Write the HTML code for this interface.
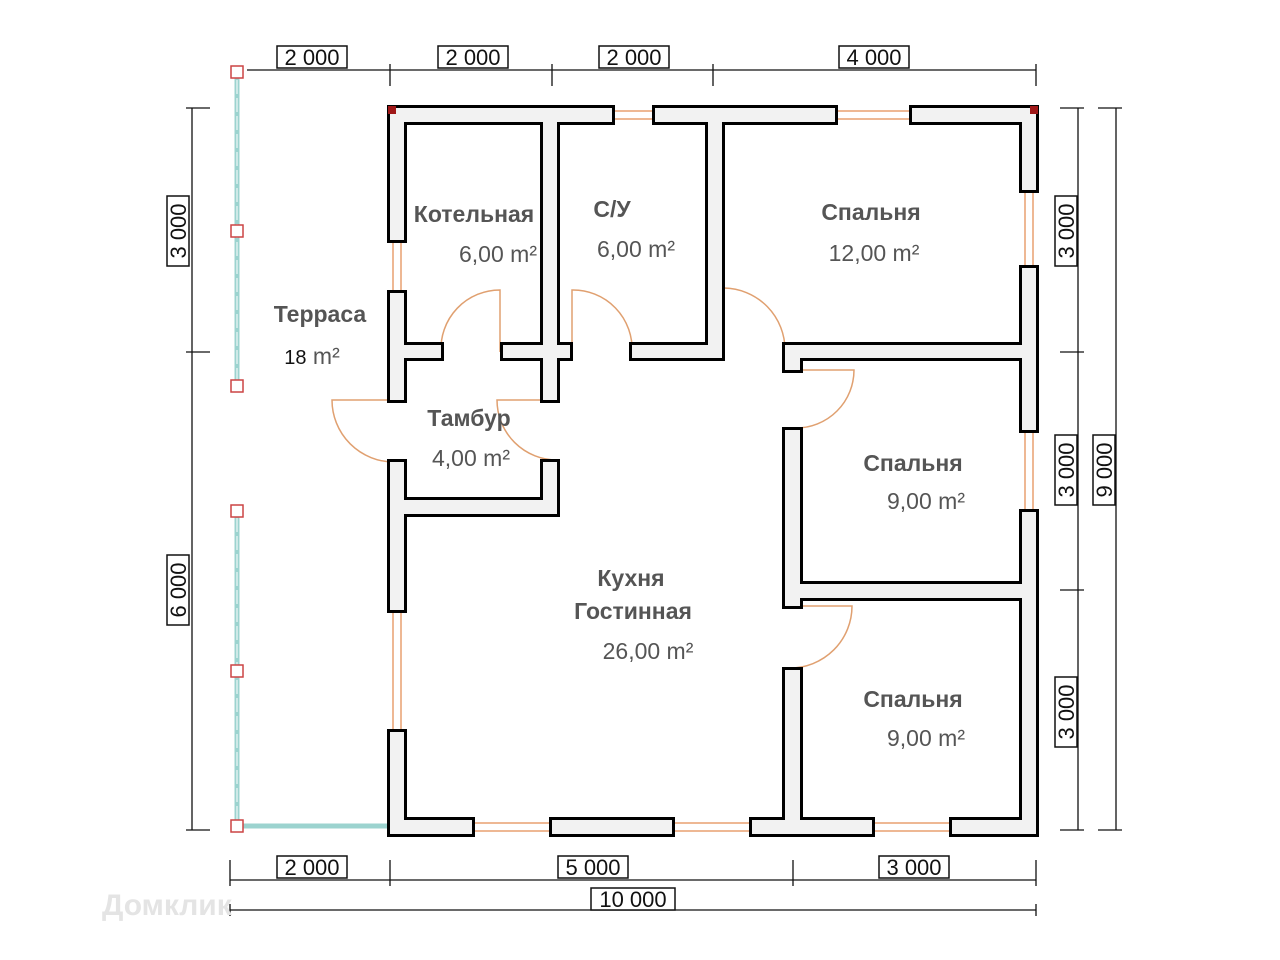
<!DOCTYPE html>
<html><head><meta charset="utf-8"><style>
body{margin:0;background:#fff;}
svg{display:block;}
.rl{font-family:"Liberation Sans",sans-serif;font-weight:bold;fill:#555;font-size:23px;}
.ra{font-family:"Liberation Sans",sans-serif;fill:#555;font-size:23px;}
.dm{font-family:"Liberation Sans",sans-serif;font-size:22px;fill:#111;}
</style></head><body>
<svg width="1280" height="960" viewBox="0 0 1280 960" xmlns="http://www.w3.org/2000/svg">
<defs>
<g id="walls">
<rect x="390" y="108" width="222" height="14"/><rect x="655" y="108" width="180" height="14"/><rect x="912" y="108" width="124" height="14"/>
<rect x="1022" y="108" width="14" height="82"/><rect x="1022" y="268" width="14" height="162"/><rect x="1022" y="512" width="14" height="322"/>
<rect x="390" y="820" width="82" height="14"/><rect x="552" y="820" width="120" height="14"/><rect x="752" y="820" width="120" height="14"/><rect x="952" y="820" width="84" height="14"/>
<rect x="390" y="108" width="14" height="132"/><rect x="390" y="293" width="14" height="107"/><rect x="390" y="462" width="14" height="148"/><rect x="390" y="732" width="14" height="102"/>
<rect x="543" y="122" width="14" height="278"/><rect x="543" y="462" width="14" height="52"/>
<rect x="404" y="345" width="37" height="13"/><rect x="503" y="345" width="67" height="13"/>
<rect x="708" y="122" width="14" height="236"/><rect x="632" y="345" width="90" height="13"/>
<rect x="404" y="500" width="153" height="14"/>
<rect x="785" y="345" width="237" height="13"/><rect x="785" y="345" width="15" height="25"/>
<rect x="785" y="430" width="15" height="176"/><rect x="800" y="584" width="222" height="14"/>
<rect x="785" y="670" width="15" height="150"/>
</g>
</defs>
<!-- terrace -->
<g stroke="#9cd3cf" stroke-width="5" fill="none">
<line x1="237" y1="72" x2="237" y2="386"/><line x1="237" y1="511" x2="237" y2="826"/><line x1="237" y1="826" x2="390" y2="826"/>
</g>
<g stroke="#fff" stroke-width="1" stroke-dasharray="14 4"><line x1="237" y1="80" x2="237" y2="380"/><line x1="237" y1="518" x2="237" y2="820"/></g>
<g fill="#fff" stroke="#c44" stroke-width="1.5">
<rect x="231" y="66" width="12" height="12"/><rect x="231" y="225" width="12" height="12"/><rect x="231" y="380" width="12" height="12"/>
<rect x="231" y="505" width="12" height="12"/><rect x="231" y="665" width="12" height="12"/><rect x="231" y="820" width="12" height="12"/>
</g>
<!-- windows -->
<g stroke="#e8a070" stroke-width="1.5" fill="none">
<line x1="612" y1="111" x2="655" y2="111"/><line x1="612" y1="119" x2="655" y2="119"/>
<line x1="835" y1="111" x2="912" y2="111"/><line x1="835" y1="119" x2="912" y2="119"/>
<line x1="1025" y1="190" x2="1025" y2="268"/><line x1="1033" y1="190" x2="1033" y2="268"/>
<line x1="1025" y1="430" x2="1025" y2="512"/><line x1="1033" y1="430" x2="1033" y2="512"/>
<line x1="472" y1="823" x2="552" y2="823"/><line x1="472" y1="831" x2="552" y2="831"/>
<line x1="672" y1="823" x2="752" y2="823"/><line x1="672" y1="831" x2="752" y2="831"/>
<line x1="872" y1="823" x2="952" y2="823"/><line x1="872" y1="831" x2="952" y2="831"/>
<line x1="393" y1="240" x2="393" y2="293"/><line x1="401" y1="240" x2="401" y2="293"/>
<line x1="393" y1="610" x2="393" y2="732"/><line x1="401" y1="610" x2="401" y2="732"/>
</g>
<!-- doors -->
<g stroke="#e0a070" stroke-width="1.5" fill="none">
<path d="M441 352 A59 59 0 0 1 500 290 L500 352"/>
<path d="M632 352 A59 59 0 0 0 572 290 L572 352"/>
<path d="M724 288 A62 62 0 0 1 785 350"/><line x1="724" y1="288" x2="724" y2="350"/>
<path d="M800 370 L854 370 A58 58 0 0 1 796 428"/>
<path d="M394 400 L332 400 A62 62 0 0 0 394 462"/>
<path d="M557 400 L497 400 A60 60 0 0 0 557 460"/>
<path d="M800 606 L852 606 A62 62 0 0 1 790 668"/>
</g>
<!-- walls: black outline then fill -->
<use href="#walls" fill="#000" stroke="#000" stroke-width="6"/>
<use href="#walls" fill="#f2f2f2"/>
<rect x="388" y="106" width="8" height="8" fill="#a01818"/><rect x="1030" y="106" width="8" height="8" fill="#a01818"/>
<!-- dimension lines -->
<g stroke="#111" stroke-width="1.3" fill="none">
<line x1="247" y1="70" x2="1036" y2="70"/>
<line x1="390" y1="64" x2="390" y2="86"/><line x1="552" y1="64" x2="552" y2="86"/><line x1="713" y1="64" x2="713" y2="86"/><line x1="1036" y1="64" x2="1036" y2="86"/>
<line x1="192" y1="108" x2="192" y2="830"/><line x1="186" y1="108" x2="210" y2="108"/><line x1="186" y1="352" x2="210" y2="352"/><line x1="186" y1="830" x2="210" y2="830"/>
<line x1="1078" y1="108" x2="1078" y2="830"/><line x1="1060" y1="108" x2="1084" y2="108"/><line x1="1060" y1="352" x2="1084" y2="352"/><line x1="1060" y1="590" x2="1084" y2="590"/><line x1="1060" y1="830" x2="1084" y2="830"/>
<line x1="1116" y1="108" x2="1116" y2="830"/><line x1="1098" y1="108" x2="1122" y2="108"/><line x1="1098" y1="830" x2="1122" y2="830"/>
<line x1="230" y1="880" x2="1036" y2="880"/><line x1="230" y1="860" x2="230" y2="886"/><line x1="390" y1="860" x2="390" y2="886"/><line x1="793" y1="860" x2="793" y2="886"/><line x1="1036" y1="860" x2="1036" y2="886"/>
<line x1="230" y1="910" x2="1036" y2="910"/><line x1="230" y1="904" x2="230" y2="916"/><line x1="1036" y1="904" x2="1036" y2="916"/>
</g>
<g fill="#fff" stroke="#111" stroke-width="1.5">
<rect x="277" y="46" width="70" height="22"/><rect x="438" y="46" width="70" height="22"/><rect x="599" y="46" width="70" height="22"/><rect x="839" y="46" width="70" height="22"/>
<rect x="277" y="856" width="70" height="22"/><rect x="558" y="856" width="70" height="22"/><rect x="879" y="856" width="70" height="22"/><rect x="591" y="888" width="84" height="22"/>
<rect x="167" y="196" width="22" height="70"/><rect x="167" y="555" width="22" height="70"/>
<rect x="1055" y="196" width="22" height="70"/><rect x="1055" y="435" width="22" height="70"/><rect x="1055" y="677" width="22" height="70"/><rect x="1093" y="435" width="22" height="70"/>
</g>
<g class="dm" text-anchor="middle">
<text x="312" y="65">2 000</text><text x="473" y="65">2 000</text><text x="634" y="65">2 000</text><text x="874" y="65">4 000</text>
<text x="312" y="875">2 000</text><text x="593" y="875">5 000</text><text x="914" y="875">3 000</text><text x="633" y="907">10 000</text>
<text transform="translate(186,231) rotate(-90)">3 000</text><text transform="translate(186,590) rotate(-90)">6 000</text>
<text transform="translate(1074,231) rotate(-90)">3 000</text><text transform="translate(1074,470) rotate(-90)">3 000</text><text transform="translate(1074,712) rotate(-90)">3 000</text><text transform="translate(1112,470) rotate(-90)">9 000</text>
</g>
<!-- room labels -->
<g text-anchor="middle">
<text class="rl" x="474" y="222">Котельная</text><text class="ra" x="498" y="262">6,00 m²</text>
<text class="rl" x="612" y="217">С/У</text><text class="ra" x="636" y="257">6,00 m²</text>
<text class="rl" x="871" y="220">Спальня</text><text class="ra" x="874" y="261">12,00 m²</text>
<text class="rl" x="320" y="322">Терраса</text><text class="ra" x="312" y="364"><tspan font-size="20" fill="#111">18</tspan> m²</text>
<text class="rl" x="469" y="426">Тамбур</text><text class="ra" x="471" y="466">4,00 m²</text>
<text class="rl" x="913" y="471">Спальня</text><text class="ra" x="926" y="509">9,00 m²</text>
<text class="rl" x="631" y="586">Кухня</text><text class="rl" x="633" y="619">Гостинная</text><text class="ra" x="648" y="659">26,00 m²</text>
<text class="rl" x="913" y="707">Спальня</text><text class="ra" x="926" y="746">9,00 m²</text>
</g>
<text x="102" y="915" font-family="Liberation Sans,sans-serif" font-size="30" fill="#e4e4e4" font-weight="bold">Домклик</text>
</svg>
</body></html>
